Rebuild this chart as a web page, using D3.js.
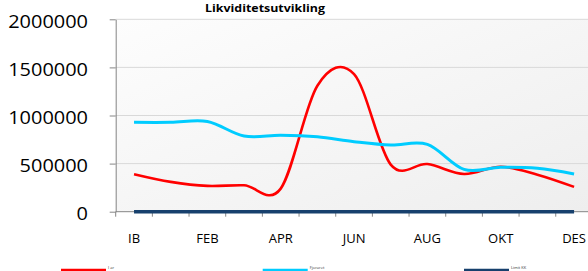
<!DOCTYPE html>
<html>
  <head>
    <meta charset="utf-8">
    <title>Likviditetsutvikling</title>
    <style>
      body { margin: 0; background: #fff; }
      svg { display: block; }
    </style>
  </head>
  <body>
    <div class="chart-area"></div>

    <script src="https://d3js.org/d3.v7.min.js"></script>
    <script>
      // categories on the x axis
      var months = ["IB", "JAN", "FEB", "MAR", "APR", "MAI", "JUN", "JUL", "AUG", "SEP", "OKT", "NOV", "DES"];
      // only every other month gets a label
      var monthLabels = ["IB", "FEB", "APR", "JUN", "AUG", "OKT", "DES"];

      // series
      var iAar     = [390000, 310000, 268000, 275000, 240000, 1310000, 1430000, 490000, 495000, 392000, 468000, 385000, 258000];
      var fjoraret = [929000, 929000, 938000, 787000, 795000, 778000, 728000, 693000, 700000, 440000, 461000, 451000, 392000];
      var limitKK  = [0, 0, 0, 0, 0, 0, 0, 0, 0, 0, 0, 0, 0];

      var seriesNames = ["I år", "Fjoråret", "Limit KK"];
      var yTicks = [0, 500000, 1000000, 1500000, 2000000];

      var width = 588, height = 271;
      var plot = {left: 115.7, top: 19.3, bottom: 211.7, band: 36.67};

      var svg = d3.select(".chart-area")
        .append("svg")
          .attr("width", width)
          .attr("height", height);

      var x = d3.scaleBand()
        .domain(months)
        .range([plot.left, plot.left + plot.band * months.length])
        .padding(0);

      var y = d3.scaleLinear()
        .domain([0, 2000000])
        .range([plot.bottom, plot.top]);

      // plot area background, faint gradient like the original
      var defs = svg.append("defs");
      var grad = defs.append("linearGradient")
        .attr("id", "bg")
        .attr("x1", "0").attr("y1", "0")
        .attr("x2", "1").attr("y2", "1");
      grad.append("stop").attr("offset", "0").attr("stop-color", "#fdfdfd");
      grad.append("stop").attr("offset", "1").attr("stop-color", "#eeeeee");

      svg.append("rect")
        .attr("x", plot.left)
        .attr("y", plot.top)
        .attr("width", width - plot.left)
        .attr("height", plot.bottom - plot.top)
        .attr("fill", "url(#bg)");

      // gridlines
      svg.append("g")
        .selectAll("line")
        .data(yTicks.filter(d => d > 0))
        .enter().append("line")
          .attr("x1", plot.left)
          .attr("x2", width)
          .attr("y1", d => y(d))
          .attr("y2", d => y(d))
          .attr("stroke", "#d9d9d9")
          .attr("stroke-width", 1);

      // y axis
      var yAxis = svg.append("g")
        .attr("transform", "translate(" + plot.left + ",0)")
        .call(d3.axisLeft(y).tickValues(yTicks).tickSize(6).tickFormat(d3.format("d")).tickSizeOuter(0));
      yAxis.select(".domain").attr("stroke", "#868686");
      yAxis.selectAll(".tick line").attr("stroke", "#868686");
      yAxis.selectAll(".tick text")
        .attr("x", 88 - plot.left)
        .attr("dy", "0.45em")
        .attr("fill", "#000")
        .style("font-family", "'Open Sans', sans-serif")
        .style("font-size", "18px")
        .attr("textLength", d => String(d).length * 11.4)
        .attr("lengthAdjust", "spacingAndGlyphs");

      // x axis: ticks between the categories
      var xAxis = svg.append("g")
        .attr("transform", "translate(0," + plot.bottom + ")");
      xAxis.append("line")
        .attr("x1", plot.left).attr("x2", width)
        .attr("y1", 0).attr("y2", 0)
        .attr("stroke", "#868686");
      xAxis.selectAll(".xtick")
        .data(months)
        .enter().append("line")
          .attr("class", "xtick")
          .attr("x1", d => x(d))
          .attr("x2", d => x(d))
          .attr("y1", 0)
          .attr("y2", 5)
          .attr("stroke", "#868686");
      xAxis.selectAll("text")
        .data(monthLabels)
        .enter().append("text")
          .attr("x", d => x(d) + x.bandwidth() / 2)
          .attr("y", 31.5)
          .attr("text-anchor", "middle")
          .style("font-family", "'Open Sans', sans-serif")
          .style("font-size", "13px")
          .text(d => d);

      // the lines
      var colors = ["#ff0000", "#00ccff", "#17406d"];
      var widths = [2.6, 3, 3.5];
      var allSeries = [iAar, fjoraret, limitKK];

      var line = d3.line()
        .x((d, i) => x(months[i]) + x.bandwidth() / 2)
        .y(d => y(d))
        .curve(d3.curveCatmullRom.alpha(0));

      svg.append("g")
        .selectAll("path")
        .data(allSeries)
        .enter().append("path")
          .attr("d", d => line(d))
          .attr("fill", "none")
          .attr("stroke", (d, i) => colors[i])
          .attr("stroke-width", (d, i) => widths[i])
          .attr("stroke-linejoin", "round");

      // title, squeezed into the top edge
      svg.append("text")
        .attr("x", 265)
        .attr("y", 12)
        .attr("text-anchor", "middle")
        .style("font-family", "'Open Sans', sans-serif")
        .style("font-weight", "bold")
        .style("font-size", "11px")
        .attr("textLength", 120)
        .attr("lengthAdjust", "spacingAndGlyphs")
        .text("Likviditetsutvikling");

      // legend, tiny
      var legendX = [61, 262.7, 464];
      var legend = svg.append("g")
        .selectAll("g")
        .data(seriesNames)
        .enter().append("g")
          .attr("transform", (d, i) => "translate(" + legendX[i] + ",270)");
      legend.append("line")
        .attr("x1", 0).attr("x2", 45)
        .attr("y1", 0).attr("y2", 0)
        .attr("stroke", (d, i) => colors[i])
        .attr("stroke-width", 2.5);
      legend.append("text")
        .attr("x", 47)
        .attr("y", -1)
        .style("font-family", "'Open Sans', sans-serif")
        .style("font-size", "4px")
        .attr("fill", "#333")
        .text(d => d);
    </script>
  </body>
</html>
